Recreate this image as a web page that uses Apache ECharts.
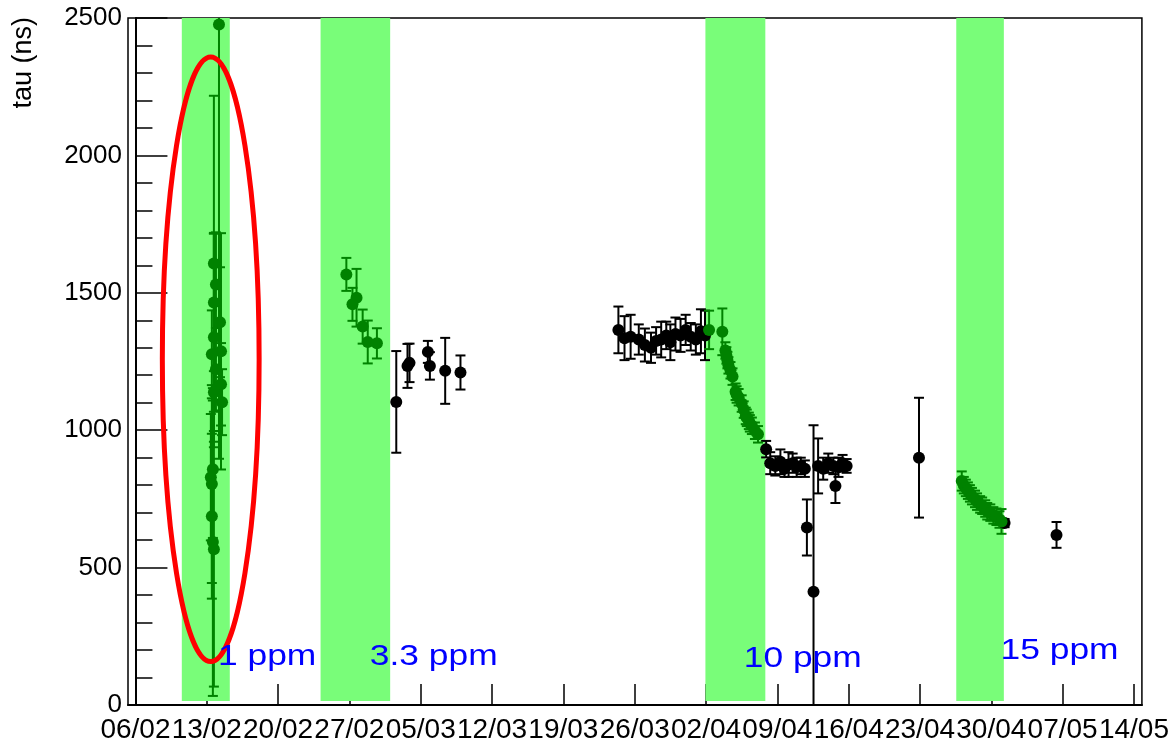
<!DOCTYPE html>
<html>
<head>
<meta charset="utf-8">
<script src="https://cdn.jsdelivr.net/npm/echarts@6/dist/echarts.min.js"></script>
<style>
html, body { margin: 0; padding: 0; background: #ffffff; }
#chart { width: 1172px; height: 744px; }
</style>
</head>
<body>
<div id="chart"></div>
<script>
// Weekly date ticks (dd/mm), one every 7 days starting 06/02
const dateLabels = ['06/02', '13/02', '20/02', '27/02', '05/03', '12/03', '19/03', '26/03',
                    '02/04', '09/04', '16/04', '23/04', '30/04', '07/05', '14/05'];

// Doping periods, in days since 06/02
const dopingStart = [4.55, 18.17, 55.94, 80.56];
const dopingEnd   = [9.26, 25.0, 61.82, 85.23];
const dopingText  = ['1 ppm', '3.3 ppm', '10 ppm', '15 ppm'];

// Lifetime measurements: [days since 06/02, tau (ns), error (ns)]
const tau1ppm = [
  [8.2, 2476, 1580], [7.7, 1607, 610], [7.9, 1530, 190], [7.7, 1465, 250],
  [8.3, 1393, 200], [7.7, 1338, 380], [8.4, 1287, 430], [7.5, 1276, 160],
  [7.9, 1222, 150], [8.4, 1167, 150], [7.7, 1138, 200], [8.5, 1102, 120],
  [7.6, 858, 250], [7.4, 829, 230], [7.5, 804, 360], [7.5, 687, 300],
  [7.6, 593, 560], [7.7, 567, 500]
];
const tau3p3ppm = [
  [20.7, 1567, 60], [21.7, 1482, 105], [21.3, 1458, 60], [22.3, 1377, 62],
  [22.8, 1321, 78], [23.7, 1316, 55]
];
const tau10ppm = [
  [56.3, 1365, 70], [57.6, 1358, 85], [57.9, 1290, 30], [58.0, 1272, 30],
  [58.1, 1255, 30], [58.2, 1236, 30], [58.4, 1218, 30], [58.6, 1195, 30],
  [58.9, 1140, 30], [59.0, 1130, 30], [59.2, 1120, 30], [59.5, 1097, 30],
  [59.7, 1075, 30], [59.9, 1052, 30], [60.0, 1045, 30], [60.2, 1034, 30],
  [60.3, 1025, 30], [60.5, 1016, 30], [60.8, 998, 30], [61.1, 985, 30]
];
const tau15ppm = [
  [81.1, 815, 35], [81.3, 800, 30], [81.5, 790, 30], [81.7, 780, 30],
  [81.9, 770, 30], [82.1, 760, 30], [82.4, 750, 30], [82.6, 740, 30],
  [82.9, 730, 30], [83.1, 725, 30], [83.4, 715, 30], [83.6, 705, 30],
  [83.9, 700, 30], [84.2, 690, 30], [84.5, 685, 30], [84.8, 675, 30],
  [85.0, 668, 45]
];
const tauMarch = [
  [25.6, 1103, 185], [26.7, 1234, 80], [26.9, 1245, 70], [28.7, 1285, 40],
  [28.9, 1234, 50], [30.4, 1216, 120], [31.9, 1210, 62]
];
const tauLateMarch = [
  [47.4, 1365, 85], [48.0, 1335, 80], [48.6, 1340, 80], [49.4, 1330, 55],
  [50.0, 1310, 60], [50.6, 1300, 55], [51.1, 1325, 50], [51.6, 1330, 65],
  [52.1, 1345, 50], [52.5, 1320, 65], [53.0, 1350, 60], [53.5, 1345, 60],
  [54.0, 1365, 55], [54.5, 1340, 50], [55.0, 1330, 55], [55.5, 1360, 80],
  [55.9, 1345, 90]
];
const tauApril = [
  [61.9, 931, 30], [62.3, 880, 40], [62.8, 870, 35], [63.3, 885, 45],
  [63.7, 860, 30], [64.1, 875, 45], [64.5, 880, 35], [64.9, 865, 35],
  [65.3, 870, 30], [65.7, 860, 30], [65.9, 646, 102], [66.55, 412, 606],
  [67.0, 870, 100], [67.5, 860, 40], [68.0, 880, 35], [68.5, 870, 30],
  [68.7, 797, 62], [69.0, 865, 35], [69.4, 880, 30], [69.8, 870, 25],
  [76.9, 900, 218]
];
const tauMay = [
  [85.3, 662, 15], [90.4, 619, 47]
];

const dopedPoints = tau1ppm.concat(tau3p3ppm, tau10ppm, tau15ppm);
const referencePoints = tauMarch.concat(tauLateMarch, tauApril, tauMay);

// Layout / style
const FONT = '"Liberation Sans", Arial, Helvetica, sans-serif';
const GREEN = '#008200';
const BAND = '#79fd79';
const BAND_FLOOR = 15;
const BAND_TOP = 2500;
const textAnchors = [[8.1, 174], [23.0, 174], [59.7, 167], [84.9, 196]];
const ellipseSpec = [[7.39, 1258, 4.75, 1100]];

const tickDays = dateLabels.map((_, i) => i * 7);

function errorBars(color) {
  return function (params, api) {
    const d = api.value(0), t = api.value(1), e = api.value(2);
    const hi = api.coord([d, t + e]);
    const lo = api.coord([d, t - e]);
    const cap = 5;
    const style = { stroke: color, lineWidth: 2 };
    return {
      type: 'group',
      children: [
        { type: 'line', shape: { x1: hi[0], y1: hi[1], x2: lo[0], y2: lo[1] }, style: style },
        { type: 'line', shape: { x1: hi[0] - cap, y1: hi[1], x2: hi[0] + cap, y2: hi[1] }, style: style },
        { type: 'line', shape: { x1: lo[0] - cap, y1: lo[1], x2: lo[0] + cap, y2: lo[1] }, style: style }
      ]
    };
  };
}

const chart = echarts.init(document.getElementById('chart'), null, { renderer: 'canvas' });

chart.setOption({
  animation: false,
  backgroundColor: '#ffffff',
  grid: {
    left: 128, right: 28, top: 18, bottom: 38,
    show: true, borderColor: '#000', borderWidth: 1.5, backgroundColor: 'transparent'
  },
  xAxis: {
    type: 'value',
    min: -0.73,
    max: 98.78,
    axisLine: { show: true, onZero: false, lineStyle: { color: '#000', width: 2 } },
    axisTick: { show: true, inside: true, length: 21, customValues: tickDays,
                lineStyle: { color: '#000', width: 1.5 } },
    axisLabel: {
      customValues: tickDays,
      margin: 11,
      color: '#000',
      fontSize: 28,
      fontFamily: FONT,
      hideOverlap: false,
      formatter: v => dateLabels[Math.round(v / 7)]
    },
    splitLine: { show: false }
  },
  yAxis: {
    type: 'value',
    min: 0,
    max: 2500,
    interval: 500,
    axisLine: { show: true, lineStyle: { color: '#000', width: 2 } },
    axisTick: { show: true, inside: true, length: 32, lineStyle: { color: '#000', width: 1.5 } },
    minorTick: { show: true, splitNumber: 5, length: 17, lineStyle: { color: '#000', width: 1.5 } },
    axisLabel: {
      margin: 6, color: '#000', fontSize: 26, fontFamily: FONT,
      formatter: v => String(v)
    },
    splitLine: { show: false }
  },
  graphic: [{
    type: 'text',
    x: 24,
    y: 17,
    rotation: Math.PI / 2,
    style: {
      text: 'tau (ns)',
      fill: '#000',
      font: '27px ' + FONT,
      align: 'right',
      verticalAlign: 'middle'
    }
  }],
  series: [
    {
      name: 'doping',
      type: 'custom',
      z: 1,
      clip: true,
      data: dopingStart.map((s, i) => [s, dopingEnd[i], BAND_FLOOR, BAND_TOP]),
      encode: { x: [0, 1], y: [2, 3] },
      renderItem: function (params, api) {
        const p0 = api.coord([api.value(0), api.value(3)]);
        const p1 = api.coord([api.value(1), api.value(2)]);
        return {
          type: 'rect',
          shape: { x: p0[0], y: p0[1], width: p1[0] - p0[0], height: p1[1] - p0[1] },
          style: { fill: BAND }
        };
      }
    },
    {
      name: 'reference errors',
      type: 'custom',
      z: 3,
      clip: true,
      data: referencePoints,
      encode: { x: 0, y: 1 },
      renderItem: errorBars('#000')
    },
    {
      name: 'doped errors',
      type: 'custom',
      z: 3,
      clip: true,
      data: dopedPoints,
      encode: { x: 0, y: 1 },
      renderItem: errorBars(GREEN)
    },
    {
      name: 'reference',
      type: 'scatter',
      z: 4,
      symbol: 'circle',
      symbolSize: 12,
      data: referencePoints.map(p => [p[0], p[1]]),
      itemStyle: { color: '#000', opacity: 1 }
    },
    {
      name: 'doped',
      type: 'scatter',
      z: 4,
      symbol: 'circle',
      symbolSize: 12,
      data: dopedPoints.map(p => [p[0], p[1]]),
      itemStyle: { color: GREEN, opacity: 1 }
    },
    {
      name: 'highlight',
      type: 'custom',
      z: 6,
      data: ellipseSpec,
      encode: { x: 0, y: 1 },
      renderItem: function (params, api) {
        const c = api.coord([api.value(0), api.value(1)]);
        const r = api.size([api.value(2), api.value(3)]);
        return {
          type: 'ellipse',
          shape: { cx: c[0], cy: c[1], rx: r[0], ry: r[1] },
          style: { fill: 'none', stroke: '#ff0000', lineWidth: 5 }
        };
      }
    },
    {
      name: 'doping labels',
      type: 'custom',
      z: 7,
      data: textAnchors,
      encode: { x: 0, y: 1 },
      renderItem: function (params, api) {
        const p = api.coord([api.value(0), api.value(1)]);
        return {
          type: 'text',
          x: p[0],
          y: p[1],
          scaleX: 1.18,
          style: {
            text: dopingText[params.dataIndex],
            fill: '#0000ff',
            font: '30px ' + FONT,
            align: 'left',
            verticalAlign: 'middle'
          }
        };
      }
    }
  ]
});
</script>
</body>
</html>
